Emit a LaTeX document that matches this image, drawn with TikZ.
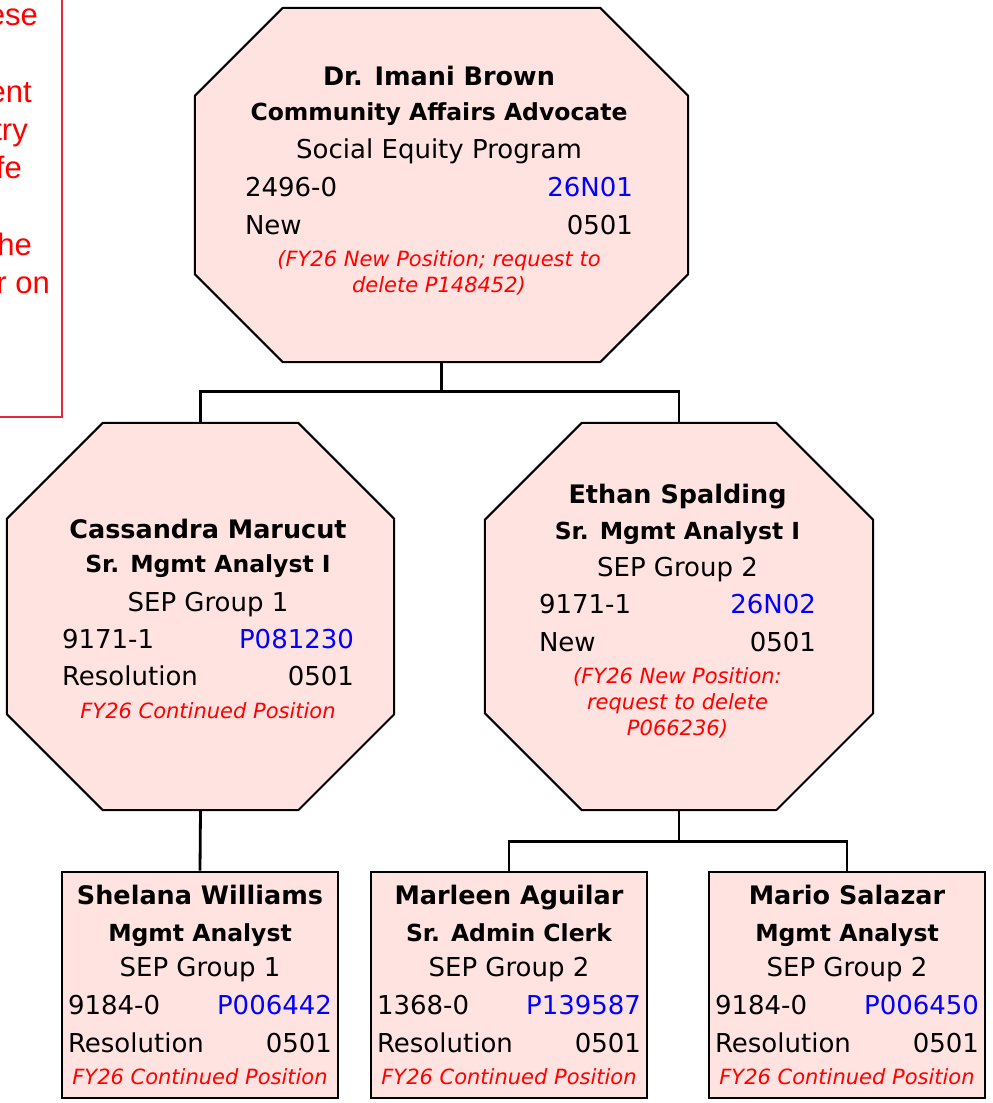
\documentclass[tikz,border=0pt]{standalone}
\usepackage{fontspec}
\setmainfont{DejaVu Sans}
\newfontfamily\memofont{Liberation Sans}
\definecolor{cardfill}{RGB}{255,227,225}
\definecolor{idblue}{RGB}{0,0,255}
\definecolor{notered}{RGB}{255,0,0}
\definecolor{memoedge}{RGB}{230,40,60}
\newcommand{\who}[1]{{\bfseries\fontsize{25.5}{38}\selectfont #1}}
\newcommand{\role}[1]{{\bfseries\fontsize{23.5}{38}\selectfont #1}}
\newcommand{\remark}[1]{{\itshape\fontsize{21}{26}\selectfont\color{notered}#1}}
\newcommand{\pid}[1]{\textcolor{idblue}{#1}}
\newcommand{\pairline}[3]{\makebox[#1]{#2\hfill #3}}
% octagon drawn round a placed frame node: name, corner cut
\newcommand{\octagon}[2]{%
  \draw[octline] ([xshift=#2pt]#1.north west) -- ([xshift=-#2pt]#1.north east)
    -- ([yshift=-#2pt]#1.north east) -- ([yshift=#2pt]#1.south east)
    -- ([xshift=-#2pt]#1.south east) -- ([xshift=#2pt]#1.south west)
    -- ([yshift=#2pt]#1.south west) -- ([yshift=-#2pt]#1.north west) -- cycle;}

\begin{document}
\begin{tikzpicture}[x=1pt,y=-1pt,
    frame/.style={rectangle,inner sep=0pt},
    octline/.style={draw,line width=2pt,fill=cardfill,line join=miter},
    card/.style={draw,line width=2.6pt,fill=cardfill,minimum width=276pt,minimum height=226pt,
      inner sep=0pt,align=center,font=\fontsize{26}{38}\selectfont},
    info/.style={align=center,inner sep=0pt,font=\fontsize{26}{38}\selectfont},
    link/.style={line width=2.8pt},
    memo/.style={draw=memoedge,line width=2pt,inner sep=0pt},
    memotext/.style={text=notered,font=\memofont\fontsize{31}{38}\selectfont,anchor=base east,inner sep=0pt}]
  \useasboundingbox (0,0) rectangle (993,1103);

  % note box, cut off at the left edge
  \node[memo,minimum width=400pt,minimum height=440pt,anchor=south east] (memo) at (63,418) {};
  \node[memotext] (memo-a) at (38,25) {ese};
  \node[memotext] (memo-b) at (32,102) {ent};
  \node[memotext] (memo-c) at (28,140) {try};
  \node[memotext] (memo-d) at (22,178) {fe};
  \node[memotext] (memo-e) at (32,255) {he};
  \node[memotext] (memo-f) at (50,293) {r on};

  % top
  \node[frame,minimum width=493pt,minimum height=354pt] (brown) at (441.5,185) {};
  \octagon{brown}{88}
  \node[info] (brown-txt) at (439,180.7) {\who{Dr. Imani Brown}\\[-3pt]
    \role{Community Affairs Advocate}\\
    Social Equity Program\\
    \pairline{388pt}{2496-0}{\pid{26N01}}\\
    \pairline{388pt}{New}{0501}\\[-6pt]
    \remark{(FY26 New Position; request to}\\[-12pt]
    \remark{delete P148452)}};

  % second row
  \node[frame,minimum width=387pt,minimum height=387pt] (cassandra) at (200.5,616.5) {};
  \octagon{cassandra}{96}
  \node[info] (cassandra-txt) at (208,619.3) {\who{Cassandra Marucut}\\[-4pt]
    \role{Sr. Mgmt Analyst I}\\[1pt]
    SEP Group 1\\[-1pt]
    \pairline{292pt}{9171-1}{\pid{P081230}}\\[-1pt]
    \pairline{292pt}{Resolution}{0501}\\[-5pt]
    \remark{FY26 Continued Position}};

  \node[frame,minimum width=388pt,minimum height=387pt] (ethan) at (679,616.5) {};
  \octagon{ethan}{97}
  \node[info] (ethan-txt) at (677.5,610.7) {\who{Ethan Spalding}\\[-2pt]
    \role{Sr. Mgmt Analyst I}\\[-1pt]
    SEP Group 2\\[-1pt]
    \pairline{277pt}{9171-1}{\pid{26N02}}\\
    \pairline{277pt}{New}{0501}\\[-6pt]
    \remark{(FY26 New Position:}\\[-12pt]
    \remark{request to delete}\\[-12pt]
    \remark{P066236)}};

  % bottom row
  \node[card] (shelana) at (200,985) {\who{Shelana Williams}\\[-1pt]
    \role{Mgmt Analyst}\\[-3pt]
    SEP Group 1\\
    \pairline{264pt}{9184-0}{\pid{P006442}}\\
    \pairline{264pt}{Resolution}{0501}\\[-6pt]
    \remark{FY26 Continued Position}};
  \node[card] (marleen) at (509,985) {\who{Marleen Aguilar}\\[-1pt]
    \role{Sr. Admin Clerk}\\[-3pt]
    SEP Group 2\\
    \pairline{264pt}{1368-0}{\pid{P139587}}\\
    \pairline{264pt}{Resolution}{0501}\\[-6pt]
    \remark{FY26 Continued Position}};
  \node[card] (mario) at (847,985) {\who{Mario Salazar}\\[-1pt]
    \role{Mgmt Analyst}\\[-3pt]
    SEP Group 2\\
    \pairline{264pt}{9184-0}{\pid{P006450}}\\
    \pairline{264pt}{Resolution}{0501}\\[-6pt]
    \remark{FY26 Continued Position}};

  % reporting lines
  \draw[link] (brown.south) -- ++(0,29) coordinate (split) -| (cassandra.north);
  \draw[link] (split) -| (ethan.north);
  \draw[link] (cassandra.south) -- (shelana.north);
  \draw[link] (ethan.south) -- ++(0,31) coordinate (split2) -| (marleen.north);
  \draw[link] (split2) -| (mario.north);
\end{tikzpicture}
\end{document}
